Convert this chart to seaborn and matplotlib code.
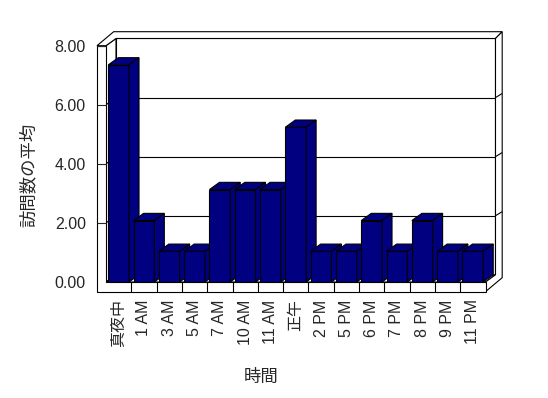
import matplotlib
matplotlib.use('Agg')
import matplotlib.pyplot as plt
from matplotlib.patches import Polygon
import seaborn as sns

# data
hours = ['真夜中', '1 AM', '3 AM', '5 AM', '7 AM', '10 AM', '11 AM', '正午',
         '2 PM', '5 PM', '6 PM', '7 PM', '8 PM', '9 PM', '11 PM']
avg_visits = [7.35, 2.08, 1.04, 1.04, 3.13, 3.13, 3.13, 5.24,
              1.04, 1.04, 2.08, 1.04, 2.08, 1.04, 1.04]
y_ticks = [0, 2, 4, 6, 8]

sns.set_style('white')
plt.rcParams['font.family'] = ['Liberation Sans', 'Noto Sans CJK JP']

navy = '#000080'
fig = plt.figure(figsize=(5.48, 3.98), dpi=100)
ax = fig.add_axes([106 / 548, 1 - 282 / 398, 379.5 / 548, 236.3 / 398])

sns.barplot(x=hours, y=avg_visits, color=navy, saturation=1, width=0.82,
            edgecolor='black', linewidth=0.8, ax=ax)
bars = list(ax.patches)

n = len(hours)
x0, x1 = -0.5, n - 0.5
ymax = y_ticks[-1]
ax.set_xlim(x0, x1)
ax.set_ylim(0, ymax)

# fake 3D offsets (data units)
dx, dy = 0.395, 0.244      # depth of the box
tx, ty = 0.265, 0.23       # back wall thickness
wall = 0.356               # left wall thickness
floor = 0.328              # floor thickness


def face(pts, z, fc='white'):
    ax.add_patch(Polygon(pts, closed=True, facecolor=fc, edgecolor='black',
                         lw=0.8, zorder=z, clip_on=False, joinstyle='miter'))


def line(xs, ys, z):
    ax.plot(xs, ys, color='black', lw=0.8, zorder=z, clip_on=False,
            solid_capstyle='butt')


# walls
face([(x0 + dx, dy), (x1 + dx, dy), (x1 + dx, ymax + dy), (x0 + dx, ymax + dy)], 1)
face([(x0, 0), (x0, ymax), (x0 + dx, ymax + dy), (x0 + dx, dy)], 2)
face([(x0, 0), (x1, 0), (x1 + dx, dy), (x0 + dx, dy)], 2)
face([(x0 - wall, ymax), (x0, ymax), (x0 + dx, ymax + dy), (x1 + dx, ymax + dy),
      (x1 + dx + tx, ymax + dy + ty), (x0 - wall + dx + tx, ymax + dy + ty)], 3)
face([(x1, 0), (x1, -floor), (x1 + dx + tx, -floor + dy + ty),
      (x1 + dx + tx, ymax + dy + ty), (x1 + dx, ymax + dy), (x1 + dx, dy)], 3)
face([(x0 - wall, ymax), (x0, ymax), (x0, 0), (x1, 0), (x1, -floor),
      (x0 - wall, -floor)], 60)
for k in range(1, n):
    line([k - 0.5, k - 0.5], [-floor, 0], 61)

# gridlines on the walls
for v in y_ticks[1:-1]:
    line([x0 + dx, x1 + dx], [v + dy, v + dy], 1.5)
    line([x0, x0 + dx], [v, v + dy], 2.5)
    line([x1 + dx, x1 + dx + tx], [v + dy, v + dy + ty * 0.6], 3.5)

# bar tops and sides
for i, p in enumerate(bars):
    x, w, h = p.get_x(), p.get_width(), p.get_height()
    base = 10 + 3 * i
    p.set_zorder(base)
    face([(x, h), (x + w, h), (x + w + dx, h + dy), (x + dx, h + dy)], base + 1, navy)
    face([(x + w, 0), (x + w, h), (x + w + dx, h + dy), (x + w + dx, dy)], base + 2, navy)

for s in ax.spines.values():
    s.set_visible(False)
ax.grid(False)

ax.set_yticks(y_ticks)
ax.set_yticklabels([f'{v:.2f}' for v in y_ticks])
ax.tick_params(axis='y', length=6.5, width=0.8, direction='out', pad=8,
               labelsize=11.5, left=True)
ax.yaxis.get_major_ticks()[0].tick1line.set_visible(False)
ax.tick_params(axis='x', length=0, pad=12.5, labelsize=11.5, labelrotation=90)
ax.yaxis.set_zorder(100)
ax.xaxis.set_zorder(100)

ax.set_ylabel('訪問数の平均', fontsize=12.5, va='center')
ax.yaxis.set_label_coords(-0.205, 0.453)
ax.set_xlabel('時間', fontsize=12.5, va='center')
ax.xaxis.set_label_coords(0.4076, -0.401)

plt.savefig('out.png', dpi=100)
